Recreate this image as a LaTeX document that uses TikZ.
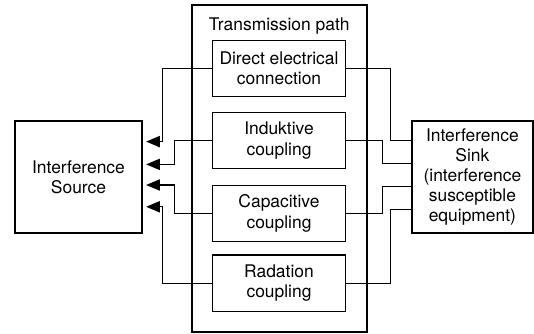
\documentclass[tikz,border=0pt]{standalone}
\usepackage{fontspec}
\setmainfont{TeX Gyre Heros}
\usepackage{tikz}
\usetikzlibrary{positioning, arrows.meta, calc}

\begin{document}
\begin{tikzpicture}[
            outerbox/.style={draw, line width=1.4pt, align=center, inner sep=0pt, font=\fontsize{12.4}{14.3}\selectfont},
            pathbox/.style={draw, line width=0.8pt, align=center, inner sep=0pt, minimum width=3.335cm, minimum height=1.41cm, font=\fontsize{12.4}{14.3}\selectfont},
            link/.style={line width=0.8pt},
            arrowlink/.style={line width=0.8pt, -{Triangle[length=3.4mm, width=2.8mm]}, shorten >=0.08cm}
        ]
            \useasboundingbox (0,0) rectangle (13.35,-8.35);

            % transmission path
            \node[outerbox, minimum width=4.375cm, minimum height=8.18cm] at (6.98,-4.216) (trpath) {};
            \node[anchor=base, font=\fontsize{12.4}{14.3}\selectfont] at (6.98,-0.765) (trtitle) {Transmission path};

            \node[pathbox] at (6.975,-1.71) (direct) {Direct electrical\\connection};
            \node[pathbox] at (6.975,-3.515) (induct) {Induktive\\coupling};
            \node[pathbox] at (6.975,-5.335) (capac) {Capacitive\\coupling};
            \node[pathbox] at (6.975,-7.08) (radiat) {Radation\\coupling};

            % source and sink
            \node[outerbox, minimum width=3.175cm, minimum height=2.8cm] at (1.9625,-4.425) (source) {Interference\\Source};
            \node[outerbox, minimum width=3.025cm, minimum height=2.8cm] at (11.81,-4.425) (sink) {Interference\\Sink\\(interference\\susceptible\\equipment)};

            % to the source
            \draw[arrowlink] (direct.west) -- ++(-1.225,0) |- ($(source.east)+(0,0.885)$);
            \draw[arrowlink] (induct.west) -- ++(-0.93,0) |- ($(source.east)+(0,0.315)$);
            \draw[arrowlink] (capac.west) -- ++(-0.93,0) |- ($(source.east)+(0,-0.2)$);
            \draw[arrowlink] (radiat.west) -- ++(-1.225,0) |- ($(source.east)+(0,-0.745)$);

            % to the sink
            \draw[link] (direct.east) -- ++(1.11,0) |- ($(sink.west)+(0,0.905)$);
            \draw[link] (induct.east) -- ++(0.915,0) |- ($(sink.west)+(0,0.345)$);
            \draw[link] (capac.east) -- ++(0.915,0) |- ($(sink.west)+(0,-0.245)$);
            \draw[link] (radiat.east) -- ++(1.11,0) |- ($(sink.west)+(0,-0.805)$);

        \end{tikzpicture}
\end{document}
